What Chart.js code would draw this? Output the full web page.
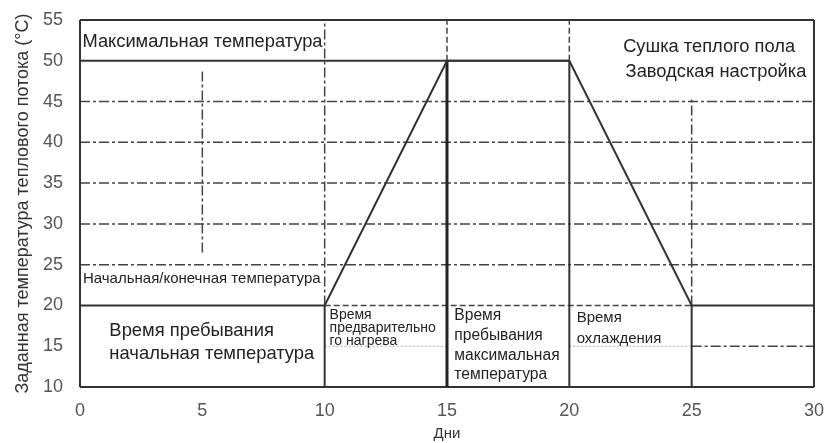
<!DOCTYPE html>
<html>
<head>
<meta charset="utf-8">
<script src="https://cdn.jsdelivr.net/npm/chart.js@4"></script>
<style>
  html, body { margin: 0; padding: 0; background: #fff; }
  #wrap { width: 829px; height: 443px; }
</style>
</head>
<body>
<div id="wrap"><canvas id="c" width="829" height="443"></canvas></div>
<script>
// temperature profile of floor drying (days / set temperature)
const days = [0, 10, 15, 20, 25, 30];
const setTemps = [20, 20, 50, 50, 20, 20];

// horizontal reference lines: [y, xFrom, xTo, style]
const hLines = [
  [55, 0, 30, 'solid'], [50, 0, 20, 'solid'],
  [45, 0, 30, 'dashdot'], [40, 0, 30, 'dashdot'], [35, 0, 30, 'dashdot'],
  [30, 0, 30, 'dashdot'], [25, 0, 30, 'dashdot'],
  [20, 10, 25, 'dashed'],
  [15, 10, 15, 'faint'], [15, 20, 25, 'faint'], [15, 25, 30, 'dashdot'],
  [10, 0, 30, 'solid']
];
// vertical reference lines: [x, yFrom, yTo, style]
const vLines = [
  [0, 10, 55, 'solid'], [30, 10, 55, 'solid'],
  [5, 26.5, 49, 'dashdot'],
  [10, 10, 20, 'solid'], [10, 20, 55, 'dashdot'],
  [15, 10, 50, 'thick'], [15, 50, 55, 'dashed'],
  [20, 10, 50, 'solid'], [20, 50, 55, 'dashed'],
  [25, 10, 20, 'solid'], [25, 20, 45.5, 'dashdot']
];
// text notes: [x, y, text, fontSize]
const notes = [
  [0.1, 52.3, 'Максимальная температура', 18.3],
  [22.2, 51.7, 'Сушка теплого пола', 18.3],
  [22.3, 48.6, 'Заводская настройка', 18.3],
  [0.12, 23.3, 'Начальная/конечная температура', 15],
  [1.2, 16.9, 'Время пребывания', 18.4],
  [1.2, 14.1, 'начальная температура', 18.4],
  [10.2, 18.85, 'Время', 14],
  [10.2, 17.2, 'предварительно', 14],
  [10.2, 15.6, 'го нагрева', 14],
  [15.3, 18.7, 'Время', 15.6],
  [15.3, 16.3, 'пребывания', 15.6],
  [15.3, 13.9, 'максимальная', 15.6],
  [15.3, 11.5, 'температура', 15.6],
  [20.3, 18.5, 'Время', 15],
  [20.3, 15.9, 'охлаждения', 15]
];

const FONT = '"Liberation Sans", Arial, sans-serif';
const styles = {
  solid:   { w: 2,   c: '#333', d: [] },
  thick:   { w: 3,   c: '#222', d: [] },
  dashdot: { w: 1.5, c: '#444', d: [10, 3, 3, 3] },
  dashed:  { w: 1.5, c: '#444', d: [6, 3] },
  faint:   { w: 1,   c: '#aaa', d: [2, 2] }
};

function seg(ctx, x1, y1, x2, y2, st) {
  const s = styles[st];
  ctx.beginPath();
  ctx.lineWidth = s.w;
  ctx.strokeStyle = s.c;
  ctx.setLineDash(s.d);
  ctx.moveTo(x1, y1);
  ctx.lineTo(x2, y2);
  ctx.stroke();
}

const diagramPlugin = {
  id: 'diagram',
  beforeDatasetsDraw(chart) {
    const { ctx, scales: { x, y } } = chart;
    ctx.save();
    hLines.forEach(([yv, a, b, st]) => {
      const py = y.getPixelForValue(yv);
      seg(ctx, x.getPixelForValue(a), py, x.getPixelForValue(b), py, st);
    });
    vLines.forEach(([xv, a, b, st]) => {
      const px = x.getPixelForValue(xv);
      seg(ctx, px, y.getPixelForValue(a), px, y.getPixelForValue(b), st);
    });
    ctx.restore();
  },
  afterDatasetsDraw(chart) {
    const { ctx, scales: { x, y } } = chart;
    ctx.save();
    ctx.fillStyle = '#222';
    ctx.textAlign = 'left';
    ctx.textBaseline = 'middle';
    notes.forEach(([xv, yv, t, size]) => {
      ctx.font = size + 'px ' + FONT;
      ctx.fillText(t, x.getPixelForValue(xv), y.getPixelForValue(yv));
    });
    ctx.restore();
  }
};

new Chart(document.getElementById('c'), {
  type: 'line',
  data: {
    datasets: [{
      data: days.map((d, i) => ({ x: d, y: setTemps[i] })),
      borderColor: '#333',
      borderWidth: 2,
      pointRadius: 0,
      tension: 0
    }]
  },
  options: {
    responsive: false,
    animation: false,
    layout: { padding: { top: 20, right: 3, left: 0, bottom: 0 } },
    plugins: { legend: { display: false }, tooltip: { enabled: false } },
    scales: {
      x: {
        type: 'linear', min: 0, max: 30,
        grid: { display: false },
        border: { display: false },
        ticks: { stepSize: 5, padding: 5, color: '#555', font: { family: FONT, size: 18 } },
        title: { display: true, text: 'Дни', color: '#333', padding: { top: 0, bottom: 0 }, font: { family: FONT, size: 15 } },
        afterFit(s) { s.height = 56; }
      },
      y: {
        type: 'linear', min: 10, max: 55,
        grid: { display: false },
        border: { display: false },
        ticks: { stepSize: 5, padding: 9, color: '#555', font: { family: FONT, size: 18 } },
        title: { display: true, text: 'Заданная температура теплового потока (°C)', color: '#333', padding: { top: 12, bottom: 0 }, font: { family: FONT, size: 18 } },
        afterFit(s) { s.width = 80; }
      }
    }
  },
  plugins: [diagramPlugin]
});
</script>
</body>
</html>
